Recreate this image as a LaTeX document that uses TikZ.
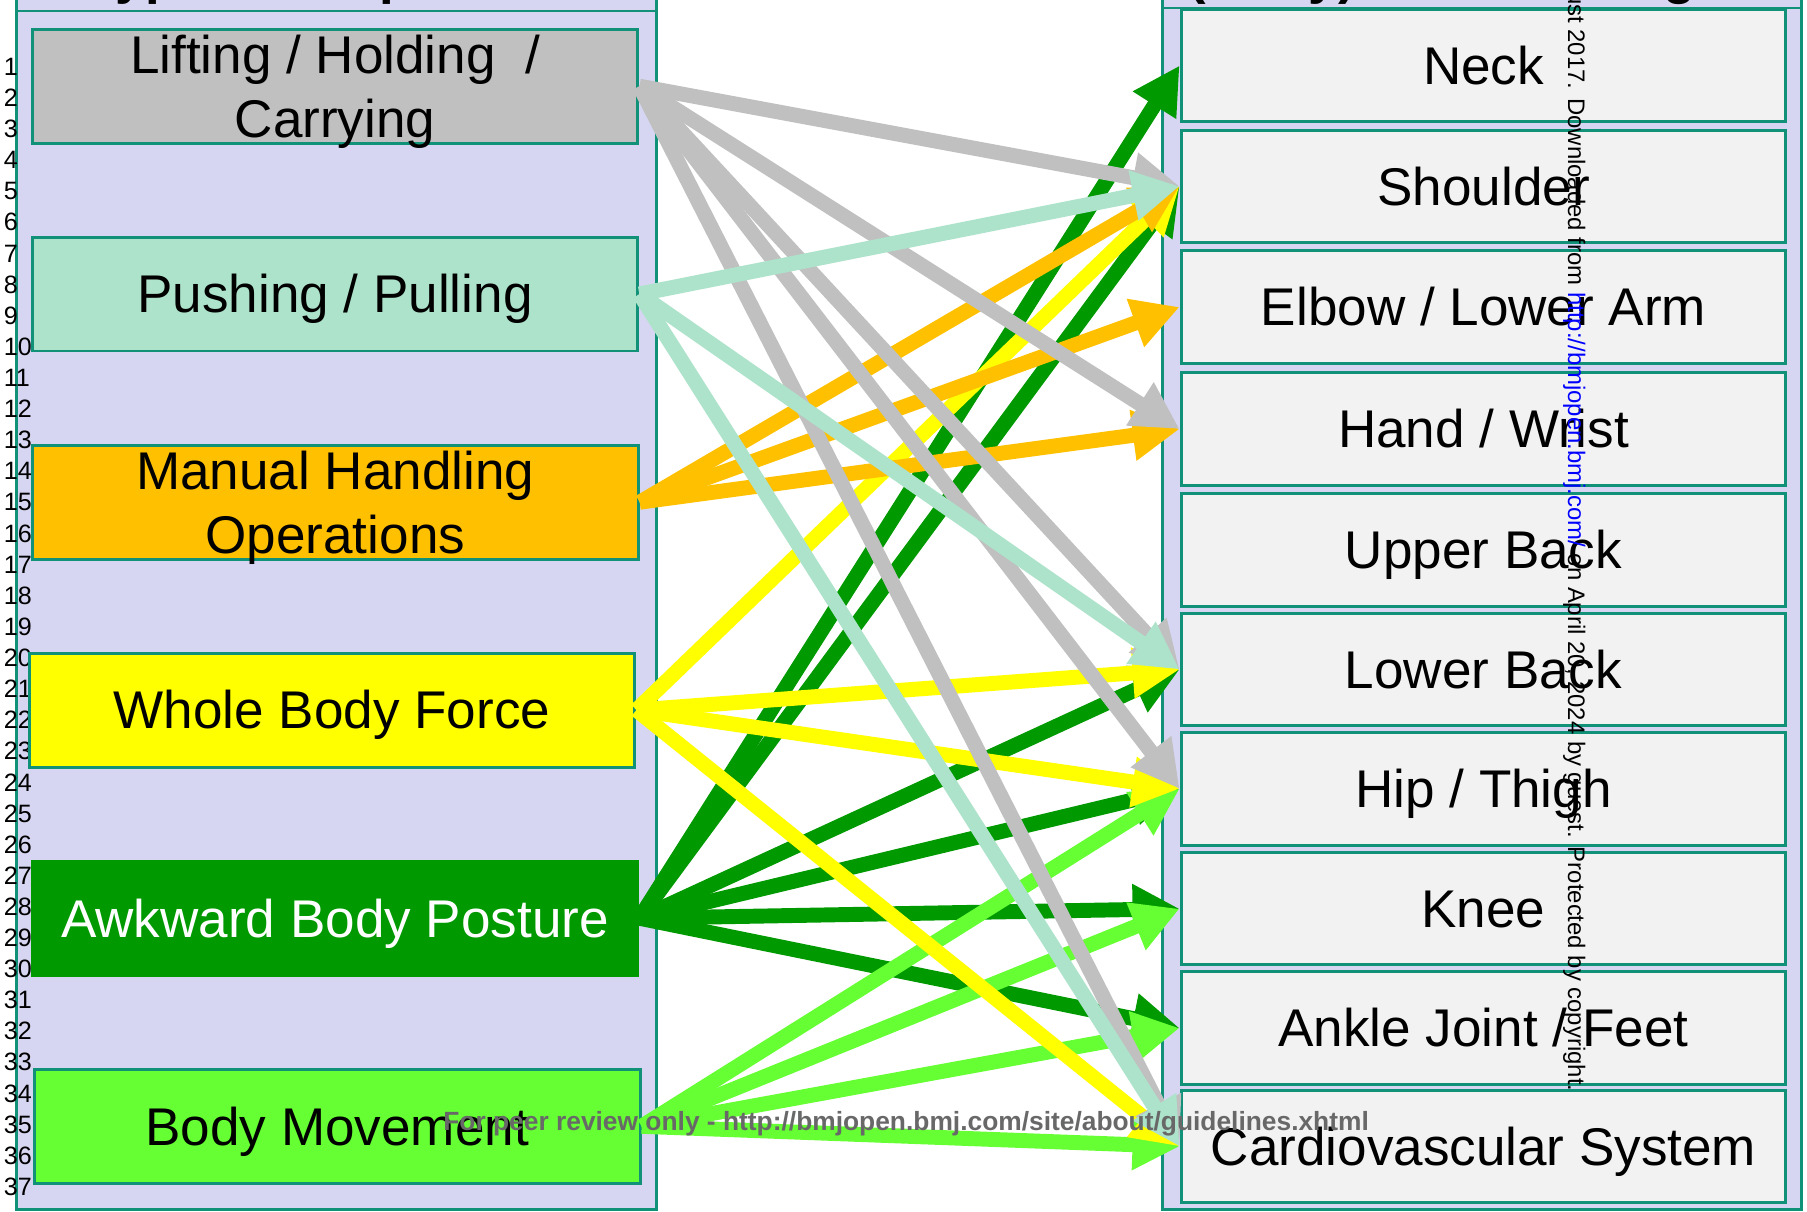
\documentclass[tikz,border=0pt]{standalone}
\usepackage{fontspec}
\setmainfont{Liberation Sans}
\usetikzlibrary{arrows.meta}
\usepackage{xcolor}
\definecolor{panelfill}{HTML}{D6D6F3}
\definecolor{panelline}{HTML}{109178}
\definecolor{regionfill}{HTML}{F2F2F2}
\definecolor{lifting}{HTML}{C0C0C0}
\definecolor{pushing}{HTML}{ADE3CB}
\definecolor{manual}{HTML}{FFC000}
\definecolor{wholebody}{HTML}{FFFF00}
\definecolor{awkward}{HTML}{009900}
\definecolor{movement}{HTML}{66FF33}
\definecolor{peer}{HTML}{686868}

\tikzset{
  labelfont/.style={font=\fontsize{30.2}{36.1}\selectfont},
  headfont/.style={font=\bfseries\fontsize{30}{36}\selectfont},
  oneline/.style={text height=21.6pt, text depth=0pt},
  exposure/.style={draw=panelline, line width=1.7pt, inner sep=0pt, minimum width=12.12cm, minimum height=2.28cm, labelfont},
  region/.style={draw=panelline, fill=regionfill, line width=1.7pt, inner sep=0pt, minimum width=12.1cm, minimum height=2.25cm, labelfont, oneline},
  panel/.style={draw=panelline, fill=panelfill, line width=1.7pt},
  link/.style={line width=8.5pt, -{Triangle[length=0.94cm,width=0.96cm]}},
}

\begin{document}
\begin{tikzpicture}[x=0.02cm, y=-0.02cm]
		\useasboundingbox (0,0) rectangle (1807,1211);
		% panels
		\draw [panel] (16.5,-90) rectangle (656,11);
		\draw [panel] (16.5,11) rectangle (656,1209);
		\draw [panel] (1162,-90) rectangle (1801,8);
		\draw [panel] (1162,8) rectangle (1801,1209);
		\node [anchor=base, inner sep=0pt, headfont] (typehead) at (336,-7) {Types of Exposures};
		\node [anchor=base, inner sep=0pt, headfont] (regionhead) at (1481.5,-7) {(Body) Affected Region};
		% line numbers
		\foreach \n in {1,...,37}
			\node [anchor=west, inner sep=0pt, font=\fontsize{14.3}{16}\selectfont] (num\n) at (3.5,35.6+31.11*\n) {\n};
		% exposures
		\node [exposure, fill=lifting, align=center] (lifting) at (335,86.2) {Lifting / Holding\ \ /\\\smash{Carrying}};
		\node [exposure, fill=pushing, oneline] (pushing) at (335,294) {Pushing / Pulling};
		\node [exposure, fill=manual, align=center] (manual) at (335.3,502.2) {Manual Handling\\\smash{Operations}};
		\node [exposure, fill=wholebody, oneline] (wholebody) at (332,710) {Whole Body Force};
		\node [exposure, fill=awkward, draw=awkward, text=white, oneline] (awkward) at (335,918.2) {Awkward Body Posture};
		\node [exposure, fill=movement, oneline] (movement) at (337.2,1126.3) {Body Movement};
		% body regions
		\node [region] (neck) at (1483.5,65.5) {Neck};
		\node [region] (shoulder) at (1483.5,186.3) {Shoulder};
		\node [region] (elbow) at (1483.5,307) {Elbow / Lower Arm};
		\node [region] (hand) at (1483.5,429) {Hand / Wrist};
		\node [region] (upperback) at (1483.5,550) {Upper Back};
		\node [region] (lowerback) at (1483.5,669.5) {Lower Back};
		\node [region] (hip) at (1483.5,788.8) {Hip / Thigh};
		\node [region] (knee) at (1483.5,908.7) {Knee};
		\node [region] (ankle) at (1483.5,1028) {Ankle Joint / Feet};
		\node [region] (cardio) at (1483.5,1146.4) {Cardiovascular System};
		% links
		\draw [link, awkward] (awkward.east) -- (neck.west);
		\draw [link, awkward] (awkward.east) -- (shoulder.west);
		\draw [link, awkward] (awkward.east) -- (lowerback.west);
		\draw [link, awkward] (awkward.east) -- (hip.west);
		\draw [link, awkward] (awkward.east) -- (knee.west);
		\draw [link, awkward] (awkward.east) -- (ankle.west);
		\draw [link, movement] (movement.east) -- (hip.west);
		\draw [link, movement] (movement.east) -- (knee.west);
		\draw [link, movement] (movement.east) -- (ankle.west);
		\draw [link, movement] (movement.east) -- (cardio.west);
		\draw [link, wholebody] (wholebody.east) -- (shoulder.west);
		\draw [link, wholebody] (wholebody.east) -- (lowerback.west);
		\draw [link, wholebody] (wholebody.east) -- (hip.west);
		\draw [link, wholebody] (wholebody.east) -- (cardio.west);
		\draw [link, manual] (manual.east) -- (shoulder.west);
		\draw [link, manual] (manual.east) -- (elbow.west);
		\draw [link, manual] (manual.east) -- (hand.west);
		\draw [link, lifting] (lifting.east) -- (shoulder.west);
		\draw [link, lifting] (lifting.east) -- (hand.west);
		\draw [link, lifting] (lifting.east) -- (lowerback.west);
		\draw [link, lifting] (lifting.east) -- (hip.west);
		\draw [link, lifting] (lifting.east) -- (cardio.west);
		\draw [link, pushing] (pushing.east) -- (shoulder.west);
		\draw [link, pushing] (pushing.east) -- (lowerback.west);
		\draw [link, pushing] (pushing.east) -- (cardio.west);
		% watermarks
		\node [rotate=-90, anchor=base east, inner sep=0pt, font=\fontsize{13.6}{16}\selectfont] (download) at (1568,1091.7) {August 2017. Downloaded from \textcolor{blue}{http://bmjopen.bmj.com/} on April 20, 2024 by guest. Protected by copyright.};
		\node [anchor=base west, inner sep=0pt, text=peer, font=\bfseries\fontsize{15}{18}\selectfont] (peerreview) at (443,1130.7) {For peer review only - http://bmjopen.bmj.com/site/about/guidelines.xhtml};
	\end{tikzpicture}
\end{document}
